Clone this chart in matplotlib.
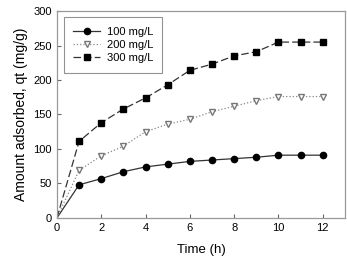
import matplotlib
matplotlib.use('Agg')
import matplotlib.pyplot as plt

plt.rcParams['font.family'] = ['Liberation Sans', 'DejaVu Sans']

# time (h) and adsorbed amount (mg/g) for each initial concentration
time = [0, 1, 2, 3, 4, 5, 6, 7, 8, 9, 10, 11, 12]
q_100 = [0, 48, 57, 67, 74, 78, 82, 84, 86, 88, 91, 91, 91]
q_200 = [0, 69, 90, 104, 125, 136, 143, 154, 162, 170, 176, 176, 176]
q_300 = [0, 111, 138, 158, 174, 193, 214, 223, 235, 241, 255, 255, 255]

fig = plt.figure(figsize=(3.47, 2.57), dpi=100)
ax = fig.add_axes([0.164, 0.152, 0.830, 0.805])

ax.plot(time, q_100, '-', color='#333333', lw=0.9, marker='o', ms=4.5,
        mfc='black', mec='black', markevery=range(1, 13), label='100 mg/L')
ax.plot(time, q_200, ':', color='#888888', lw=0.9, marker='v', ms=4.5,
        mfc='white', mec='#777777', markevery=range(1, 13), label='200 mg/L')
ax.plot(time, q_300, color='#333333', lw=0.9, dashes=(6, 2.5), marker='s', ms=4,
        mfc='black', mec='black', markevery=range(1, 13), label='300 mg/L')

ax.set_xlim(0, 13)
ax.set_ylim(0, 300)
ax.set_xticks(range(0, 13, 2))
ax.set_yticks(range(0, 301, 50))
ax.tick_params(direction='in', labelsize=8, length=3, color='#666666')
for s in ax.spines.values():
    s.set_color('#999999')
    s.set_linewidth(0.9)

ax.set_xlabel('Time (h)', fontsize=9.5, labelpad=8)
ax.set_ylabel('Amount adsorbed, qt (mg/g)', fontsize=10, labelpad=4)

leg = ax.legend(loc='upper left', fontsize=8, frameon=True, fancybox=False,
                edgecolor='#777777', handlelength=2.4, handletextpad=0.6,
                borderpad=0.85, labelspacing=0.3, borderaxespad=0,
                bbox_to_anchor=(0.024, 0.97))
leg.get_frame().set_linewidth(0.8)

fig.savefig('out.png', dpi=100)
